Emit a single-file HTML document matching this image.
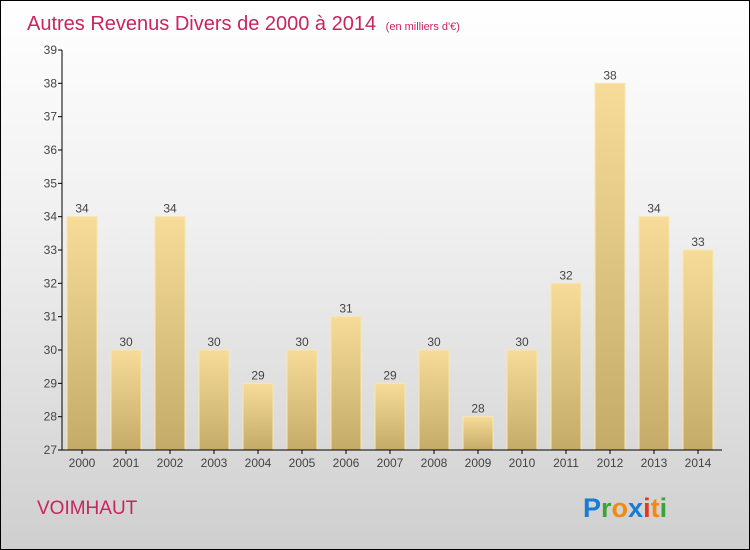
<!DOCTYPE html>
<html><head><meta charset="utf-8"><style>
body{margin:0}
#c{position:relative;width:748px;height:548px;border:1px solid #000;background:linear-gradient(#ffffff,#f0f0f0 40%,#cfcfcf);font-family:"Liberation Sans",sans-serif;overflow:hidden}
svg{position:absolute;left:0;top:0}
</style></head><body>
<div id="c">
<svg width="748" height="548" id="s">
<defs><linearGradient id="g" x1="0" y1="0" x2="0" y2="1"><stop offset="0" stop-color="#f6dc98"/><stop offset="1" stop-color="#c4ab68"/></linearGradient></defs>
<text x="26" y="29" font-size="20" fill="#c8245e">Autres Revenus Divers de 2000 à 2014 <tspan font-size="11" dx="4">(en milliers d'€)</tspan></text>
<text x="36" y="513" font-size="19" fill="#c8245e">VOIMHAUT</text>
<text x="582" y="516" font-size="27" font-weight="bold"><tspan fill="#1a7ad4">P</tspan><tspan fill="#3aa33a">r</tspan><tspan fill="#f08a10">o</tspan><tspan fill="#1a7ad4">x</tspan><tspan fill="#e03a1a">i</tspan><tspan fill="#f08a10">t</tspan><tspan fill="#3aa33a">i</tspan></text>
</svg>
</div>
<script>
const years=["2000","2001","2002","2003","2004","2005","2006","2007","2008","2009","2010","2011","2012","2013","2014"];
const values=[34,30,34,30,29,30,31,29,30,28,30,32,38,34,33];
const yTicks=[27,28,29,30,31,32,33,34,35,36,37,38,39];
const s=document.getElementById('s');const NS="http://www.w3.org/2000/svg";
const y0=449,ymin=27,ymax=39,ppu=(449-49)/12;
const Y=v=>y0-(v-ymin)*ppu;
const X=i=>81+i*44;
function el(t,a,txt){const e=document.createElementNS(NS,t);for(const k in a)e.setAttribute(k,a[k]);if(txt!=null)e.textContent=txt;s.appendChild(e);return e;}
values.forEach((v,i)=>{
 const b=el('rect',{x:X(i)-15,y:Y(v),width:30,height:y0-Y(v),fill:'url(#g)',stroke:'#f8e6b0','stroke-width':1});
 
 
 const l=el('text',{x:X(i),y:Y(v)-4,'font-size':12,fill:'#444','text-anchor':'middle'},String(v));
 
 
 const t=el('text',{x:X(i),y:466,'font-size':12,fill:'#444','text-anchor':'middle'},years[i]);
 
 
 el('line',{x1:X(i),x2:X(i),y1:y0,y2:y0+4,stroke:'#000'});
});
yTicks.forEach(v=>{
 el('line',{x1:57,x2:61,y1:Y(v),y2:Y(v),stroke:'#000'});
 const t=el('text',{x:56,y:Y(v)+4,'font-size':12,fill:'#444','text-anchor':'end'},String(v));
 
 
});
const ya=el('line',{x1:61,x2:61,y1:49,y2:y0,stroke:'#000'});


const xa=el('line',{x1:61,x2:721,y1:y0,y2:y0,stroke:'#000'});


</script>
</body></html>
